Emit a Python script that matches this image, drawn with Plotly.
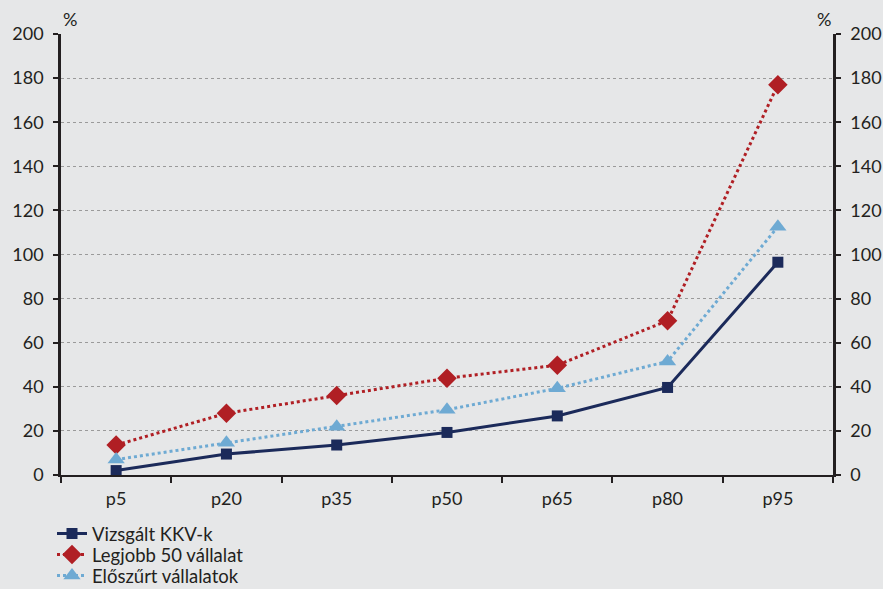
import plotly.graph_objects as go

categories = ["p5", "p20", "p35", "p50", "p65", "p80", "p95"]
vizsgalt = [2.0, 9.5, 13.6, 19.3, 26.8, 39.7, 96.5]
legjobb = [13.6, 28.0, 36.0, 43.9, 49.8, 70.0, 177.0]
eloszurt = [7.0, 14.6, 21.9, 29.6, 39.3, 51.5, 112.6]
y_ticks = [0, 20, 40, 60, 80, 100, 120, 140, 160, 180, 200]

BG = "#e6e7e8"
AX = "#231f20"
FONT = "Lato"
FS = 18

fig = go.Figure()
fig.add_trace(go.Scatter(x=categories, y=vizsgalt, name="Vizsgált KKV-k", mode="lines+markers",
                         line=dict(color="#1b2a5a", width=3),
                         marker=dict(symbol="square", size=11, color="#1b2a5a"), legend="legend"))
fig.add_trace(go.Scatter(x=categories, y=legjobb, name="Legjobb 50 vállalat", mode="lines+markers",
                         line=dict(color="#b01f24", width=3, dash="dot"),
                         marker=dict(symbol="diamond", size=15, color="#b01f24"), legend="legend2"))
fig.add_trace(go.Scatter(x=categories, y=eloszurt, name="Előszűrt vállalatok", mode="lines+markers",
                         line=dict(color="#6eaad3", width=3, dash="dot"),
                         marker=dict(symbol="triangle-up", size=15, color="#6eaad3"), legend="legend3"))
# invisible trace for right axis
fig.add_trace(go.Scatter(x=categories, y=vizsgalt, yaxis="y2", showlegend=False,
                         mode="lines", line=dict(width=0), hoverinfo="skip", opacity=0))

def leg(ycenter_px):
    return dict(xref="container", yref="container", x=52 / 883, xanchor="left",
                y=1 - ycenter_px / 589, yanchor="middle", orientation="v",
                bgcolor="rgba(0,0,0,0)", font=dict(size=18.5, family=FONT, color=AX))

fig.update_layout(
    width=883, height=589,
    paper_bgcolor=BG, plot_bgcolor=BG,
    margin=dict(l=61, r=50, t=34, b=114, autoexpand=False),
    font=dict(family=FONT, size=FS, color=AX),
    xaxis=dict(type="category", showline=True, linecolor=AX, linewidth=2,
               ticks="outside", tickson="boundaries", ticklen=6, tickwidth=2, tickcolor=AX,
               ticklabelstandoff=6,
               showgrid=False, range=[-0.5, 6.5], zeroline=False),
    yaxis=dict(range=[0, 200], tickvals=y_ticks, showline=True, linecolor=AX, linewidth=2.5,
               ticks="outside", ticklen=5, tickwidth=2, tickcolor=AX, ticklabelstandoff=6,
               showgrid=True, gridcolor="#9a9a9a", griddash="dot", gridwidth=1, zeroline=False),
    yaxis2=dict(range=[0, 200], tickvals=y_ticks, overlaying="y", side="right",
                showline=True, linecolor=AX, linewidth=2.5, ticklabelstandoff=6,
                ticks="outside", ticklen=5, tickwidth=2, tickcolor=AX,
                showgrid=False, zeroline=False),
    legend=leg(534),
    legend2=leg(555),
    legend3=leg(576),
    showlegend=True,
)
fig.add_annotation(text="%", xref="paper", yref="paper", x=0.0, y=1.0, xanchor="left",
                   yanchor="bottom", showarrow=False, font=dict(size=FS), yshift=2)
fig.add_annotation(text="%", xref="paper", yref="paper", x=1.0, y=1.0, xanchor="right",
                   yanchor="bottom", showarrow=False, font=dict(size=FS), yshift=2)

fig.write_html("out.html")
